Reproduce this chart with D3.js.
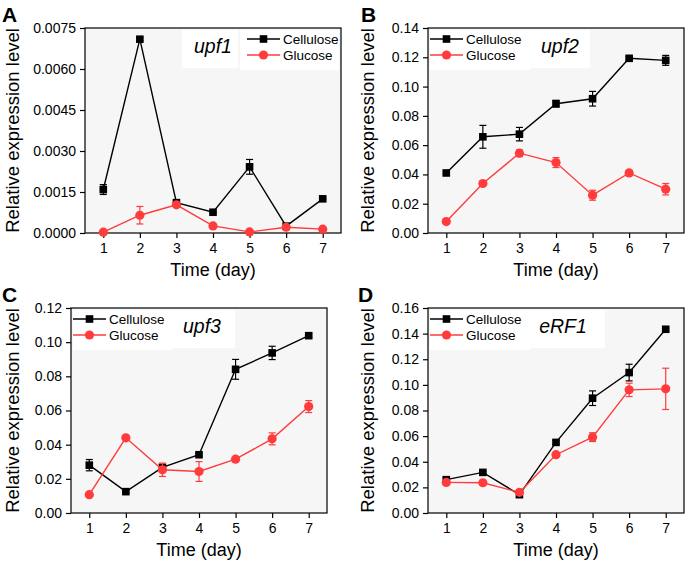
<!DOCTYPE html>
<meta charset="utf-8">
<style>
  body { margin: 0; background: #fff; }
  text { font-family: "Liberation Sans", Arial, sans-serif; }
</style>
<body>
<script src="https://cdn.jsdelivr.net/npm/d3@7"></script>
<script>

var days = [1, 2, 3, 4, 5, 6, 7];
var seriesNames = ["Cellulose", "Glucose"];
var seriesColors = ["#000000", "#ff3b3b"];

// upf1
var upf1Cell    = [0.00159, 0.00709, 0.00111, 0.00076, 0.00242, 0.00025, 0.00125];
var upf1CellErr = [0.00018, 0.00005, 0.00003, 0.00003, 0.00027, 0.00003, 0.00003];
var upf1Glu     = [0.00003, 0.00065, 0.00103, 0.00026, 0.00004, 0.00021, 0.00014];
var upf1GluErr  = [0.00002, 0.00032, 0.00005, 0.00003, 0.00002, 0.00003, 0.00003];
var upf1Ticks   = [0, 0.0015, 0.0030, 0.0045, 0.0060, 0.0075];

// upf2
var upf2Cell    = [0.0410, 0.0657, 0.0675, 0.0883, 0.0917, 0.1193, 0.1179];
var upf2CellErr = [0.0008, 0.0078, 0.0046, 0.0023, 0.0050, 0.0010, 0.0034];
var upf2Glu     = [0.0078, 0.0338, 0.0545, 0.0481, 0.0258, 0.0410, 0.0299];
var upf2GluErr  = [0.0008, 0.0010, 0.0023, 0.0034, 0.0034, 0.0018, 0.0039];
var upf2Ticks   = [0, 0.02, 0.04, 0.06, 0.08, 0.10, 0.12, 0.14];

// upf3
var upf3Cell    = [0.0280, 0.0125, 0.0267, 0.0341, 0.0841, 0.0937, 0.1038];
var upf3CellErr = [0.0033, 0.0008, 0.0010, 0.0008, 0.0058, 0.0039, 0.0010];
var upf3Glu     = [0.0107, 0.0440, 0.0253, 0.0243, 0.0315, 0.0434, 0.0623];
var upf3GluErr  = [0.0008, 0.0008, 0.0039, 0.0058, 0.0008, 0.0035, 0.0035];
var upf3Ticks   = [0, 0.02, 0.04, 0.06, 0.08, 0.10, 0.12];

// eRF1
var erf1Cell    = [0.0260, 0.0317, 0.0143, 0.0551, 0.0896, 0.1096, 0.1434];
var erf1CellErr = [0.0010, 0.0010, 0.0020, 0.0015, 0.0057, 0.0065, 0.0010];
var erf1Glu     = [0.0239, 0.0236, 0.0161, 0.0455, 0.0592, 0.0961, 0.0969];
var erf1GluErr  = [0.0010, 0.0010, 0.0015, 0.0010, 0.0034, 0.0052, 0.0161];
var erf1Ticks   = [0, 0.02, 0.04, 0.06, 0.08, 0.10, 0.12, 0.14, 0.16];

var width = 685, height = 562;

var svg = d3.select("body").append("svg")
            .attr("width", width)
            .attr("height", height);

var panels = [
  { letter: "A", gene: "upf1", cell: upf1Cell, cellErr: upf1CellErr, glu: upf1Glu, gluErr: upf1GluErr,
    ticks: upf1Ticks, fmt: ".4f", box: [85, 28, 341, 233], letterX: 2, titleX: 12,
    geneX: 213, legendX: 247, whites: [[182, 30, 56, 38], [240, 30, 99, 40]] },
  { letter: "B", gene: "upf2", cell: upf2Cell, cellErr: upf2CellErr, glu: upf2Glu, gluErr: upf2GluErr,
    ticks: upf2Ticks, fmt: ".2f", box: [428, 28, 684, 233], letterX: 361, titleX: 367,
    geneX: 560, legendX: 430, whites: [[430, 30, 100, 40], [530, 30, 60, 38]] },
  { letter: "C", gene: "upf3", cell: upf3Cell, cellErr: upf3CellErr, glu: upf3Glu, gluErr: upf3GluErr,
    ticks: upf3Ticks, fmt: ".2f", box: [71, 308, 327, 513], letterX: 2, titleX: 12,
    geneX: 202, legendX: 73, whites: [[73, 310, 100, 40], [173, 310, 62, 38]] },
  { letter: "D", gene: "eRF1", cell: erf1Cell, cellErr: erf1CellErr, glu: erf1Glu, gluErr: erf1GluErr,
    ticks: erf1Ticks, fmt: ".2f", box: [428, 308, 684, 513], letterX: 358, titleX: 367,
    geneX: 563, legendX: 430, whites: [[430, 310, 100, 40], [530, 310, 75, 38]] }
];

panels.forEach(function(p) {
  var x0 = p.box[0], y0 = p.box[1], x1 = p.box[2], y1 = p.box[3];
  var g = svg.append("g");

  var x = d3.scaleLinear().domain([0.5, 7.5]).range([x0, x1]);
  var y = d3.scaleLinear().domain([0, p.ticks[p.ticks.length - 1]]).range([y1, y0]);

  // plot background
  g.append("rect")
   .attr("x", x0).attr("y", y0)
   .attr("width", x1 - x0).attr("height", y1 - y0)
   .attr("fill", "#f6f6f6");

  p.whites.forEach(function(w) {
    g.append("rect")
     .attr("x", w[0]).attr("y", w[1])
     .attr("width", w[2]).attr("height", w[3])
     .attr("fill", "#ffffff");
  });

  // axes
  var yAxis = g.append("g")
    .attr("transform", "translate(" + x0 + ",0)")
    .call(d3.axisLeft(y).tickValues(p.ticks).tickFormat(d3.format(p.fmt)).tickSize(5).tickPadding(4));
  var xAxis = g.append("g")
    .attr("transform", "translate(0," + y1 + ")")
    .call(d3.axisBottom(x).tickValues(days).tickFormat(d3.format("d")).tickSize(5).tickPadding(5));

  [yAxis, xAxis].forEach(function(a) {
    a.select(".domain").remove();
    a.selectAll(".tick line").attr("stroke", "#000").attr("stroke-width", 1.2);
    a.selectAll(".tick text")
     .attr("fill", "#000")
     .style("font-size", "14px")
     .style("font-family", "'Liberation Sans', Arial, sans-serif");
  });

  // frame
  g.append("rect")
   .attr("x", x0).attr("y", y0)
   .attr("width", x1 - x0).attr("height", y1 - y0)
   .attr("fill", "none")
   .attr("stroke", "#000")
   .attr("stroke-width", 1.2);

  // series
  var series = [
    { vals: p.cell, errs: p.cellErr, color: seriesColors[0], shape: "square" },
    { vals: p.glu,  errs: p.gluErr,  color: seriesColors[1], shape: "circle" }
  ];

  series.forEach(function(s) {
    var pts = days.map(function(d, i) { return { day: d, v: s.vals[i], e: s.errs[i] }; });

    g.append("path")
     .datum(pts)
     .attr("fill", "none")
     .attr("stroke", s.color)
     .attr("stroke-width", 1.4)
     .attr("d", d3.line().x(function(d) { return x(d.day); }).y(function(d) { return y(d.v); }));

    var eb = g.selectAll(null).data(pts).enter().append("g")
              .attr("stroke", s.color).attr("stroke-width", 1.2);
    eb.append("line")
      .attr("x1", function(d) { return x(d.day); })
      .attr("x2", function(d) { return x(d.day); })
      .attr("y1", function(d) { return y(d.v - d.e); })
      .attr("y2", function(d) { return y(d.v + d.e); });
    eb.append("line")
      .attr("x1", function(d) { return x(d.day) - 3.5; })
      .attr("x2", function(d) { return x(d.day) + 3.5; })
      .attr("y1", function(d) { return y(d.v + d.e); })
      .attr("y2", function(d) { return y(d.v + d.e); });
    eb.append("line")
      .attr("x1", function(d) { return x(d.day) - 3.5; })
      .attr("x2", function(d) { return x(d.day) + 3.5; })
      .attr("y1", function(d) { return y(d.v - d.e); })
      .attr("y2", function(d) { return y(d.v - d.e); });

    if (s.shape == "square") {
      g.selectAll(null).data(pts).enter().append("rect")
       .attr("x", function(d) { return x(d.day) - 3.8; })
       .attr("y", function(d) { return y(d.v) - 3.8; })
       .attr("width", 7.6).attr("height", 7.6)
       .attr("fill", s.color);
    } else {
      g.selectAll(null).data(pts).enter().append("circle")
       .attr("cx", function(d) { return x(d.day); })
       .attr("cy", function(d) { return y(d.v); })
       .attr("r", 4.6)
       .attr("fill", s.color);
    }
  });

  // legend
  var lx = p.legendX, ly = y0 + 11;
  seriesNames.forEach(function(name, i) {
    var yy = ly + i * 16;
    g.append("line")
     .attr("x1", lx).attr("x2", lx + 33)
     .attr("y1", yy).attr("y2", yy)
     .attr("stroke", seriesColors[i]).attr("stroke-width", 1.4);
    if (i == 0) {
      g.append("rect").attr("x", lx + 16.5 - 3.8).attr("y", yy - 3.8)
       .attr("width", 7.6).attr("height", 7.6).attr("fill", seriesColors[i]);
    } else {
      g.append("circle").attr("cx", lx + 16.5).attr("cy", yy).attr("r", 4.6)
       .attr("fill", seriesColors[i]);
    }
    g.append("text")
     .attr("x", lx + 36).attr("y", yy + 5)
     .style("font-size", "13.5px")
     .text(name);
  });

  // gene name
  g.append("text")
   .attr("x", p.geneX).attr("y", y0 + 25)
   .attr("text-anchor", "middle")
   .style("font-size", "19.5px")
   .style("font-style", "italic")
   .text(p.gene);

  // axis titles
  g.append("text")
   .attr("transform", "translate(" + (p.titleX + 7) + "," + ((y0 + y1) / 2) + ") rotate(-90)")
   .attr("text-anchor", "middle")
   .style("font-size", "18.5px")
   .text("Relative expression level");

  g.append("text")
   .attr("x", (x0 + x1) / 2).attr("y", y1 + 43)
   .attr("text-anchor", "middle")
   .style("font-size", "18px")
   .text("Time (day)");

  // panel letter
  g.append("text")
   .attr("x", p.letterX).attr("y", y0 - 6)
   .style("font-size", "21px")
   .style("font-weight", "bold")
   .text(p.letter);
});

</script>
</body>
